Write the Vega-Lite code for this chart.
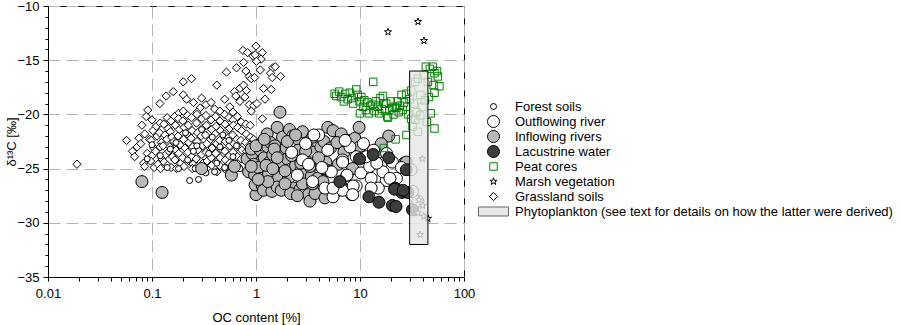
{
  "$schema": "https://vega.github.io/schema/vega-lite/v6.json",
  "width": 416,
  "height": 271,
  "autosize": {"type": "none"},
  "padding": {"left": 48, "top": 6, "right": 436, "bottom": 48},
  "background": "#ffffff",
  "config": {
    "view": {"stroke": "#000000", "strokeWidth": 1},
    "font": "Liberation Sans",
    "axis": {
      "labelFont": "Liberation Sans", "labelFontSize": 13, "labelColor": "#000000",
      "titleFont": "Liberation Sans", "titleFontSize": 13, "titleFontWeight": "normal", "titleColor": "#000000",
      "domainColor": "#000000", "tickColor": "#000000", "gridColor": "#b4b4b4", "gridDash": [12, 6], "gridWidth": 1
    },
    "legend": {
      "labelFont": "Liberation Sans", "labelFontSize": 13, "labelColor": "#000000"
    }
  },
  "encoding": {
    "x": {
      "field": "x", "type": "quantitative",
      "scale": {"type": "log", "domain": [0.01, 100], "nice": false},
      "axis": {
        "title": "OC content [%]",
        "values": [0.01,0.02,0.03,0.04,0.05,0.06,0.07,0.08,0.09,0.1,0.2,0.3,0.4,0.5,0.6,0.7,0.8,0.9,1,2,3,4,5,6,7,8,9,10,20,30,40,50,60,70,80,90,100],
        "format": "~g",
        "labelExpr": "abs(log(datum.value)/LN10 - round(log(datum.value)/LN10)) < 0.001 ? datum.label : ''",
        "grid": true,
        "gridOpacity": {"condition": {"test": "abs(log(datum.value)/LN10 - round(log(datum.value)/LN10)) < 0.001", "value": 1}, "value": 0},
        "tickSize": 4,
        "labelPadding": 6,
        "titlePadding": 11,
        "labelFlush": false,
        "labelOverlap": false
      }
    },
    "y": {
      "field": "y", "type": "quantitative",
      "scale": {"domain": [-35, -10], "nice": false, "zero": false},
      "axis": {
        "title": "δ¹³C [‰]",
        "values": [-35,-34,-33,-32,-31,-30,-29,-28,-27,-26,-25,-24,-23,-22,-21,-20,-19,-18,-17,-16,-15,-14,-13,-12,-11,-10],
        "labelExpr": "datum.value % 5 == 0 ? datum.label : ''",
        "grid": true,
        "gridOpacity": {"condition": {"test": "datum.value % 5 == 0", "value": 1}, "value": 0},
        "tickSize": {"condition": {"test": "datum.value % 5 == 0", "value": 5}, "value": 3},
        "labelPadding": 4,
        "titlePadding": -2,
        "labelFlush": false,
        "labelOverlap": false
      }
    }
  },
  "layer": [
    {
      "data": {"values": [
        {"s":"G","x":1.0,"y":-13.7},{"s":"G","x":0.93,"y":-14.6},{"s":"G","x":0.98,"y":-14.5},{"s":"G","x":0.75,"y":-14.1},{"s":"G","x":0.83,"y":-14.3},{"s":"G","x":1.15,"y":-14.3},{"s":"G","x":1.12,"y":-14.9},{"s":"G","x":1.01,"y":-15.1},{"s":"G","x":1.45,"y":-15.7},{"s":"G","x":1.53,"y":-15.6},{"s":"G","x":1.38,"y":-16.2},{"s":"G","x":1.43,"y":-16.6},{"s":"G","x":1.72,"y":-16.5},{"s":"G","x":0.52,"y":-16.1},{"s":"G","x":0.65,"y":-15.7},{"s":"G","x":0.76,"y":-15.2},{"s":"G","x":0.8,"y":-16.0},{"s":"G","x":0.86,"y":-16.5},{"s":"G","x":0.9,"y":-16.7},{"s":"G","x":0.97,"y":-16.6},{"s":"G","x":1.1,"y":-15.9},{"s":"G","x":1.18,"y":-17.6},{"s":"G","x":1.4,"y":-17.7},{"s":"G","x":1.22,"y":-18.6},{"s":"G","x":0.24,"y":-16.7},{"s":"G","x":0.2,"y":-17.0},{"s":"G","x":0.42,"y":-17.3},{"s":"G","x":0.16,"y":-17.9},{"s":"G","x":0.137,"y":-18.3},{"s":"G","x":0.119,"y":-19.0},{"s":"G","x":0.2,"y":-18.2},{"s":"G","x":0.215,"y":-18.6},{"s":"G","x":0.25,"y":-18.9},{"s":"G","x":0.3,"y":-18.5},{"s":"G","x":0.33,"y":-19.1},{"s":"G","x":0.37,"y":-18.9},{"s":"G","x":0.29,"y":-19.4},{"s":"G","x":0.4,"y":-19.5},{"s":"G","x":0.45,"y":-19.7},{"s":"G","x":0.62,"y":-17.9},{"s":"G","x":0.7,"y":-17.6},{"s":"G","x":0.76,"y":-17.3},{"s":"G","x":0.81,"y":-17.8},{"s":"G","x":0.64,"y":-18.3},{"s":"G","x":0.7,"y":-18.8},{"s":"G","x":0.78,"y":-18.4},{"s":"G","x":0.86,"y":-19.1},{"s":"G","x":0.95,"y":-19.2},{"s":"G","x":1.02,"y":-19.0},{"s":"G","x":0.56,"y":-19.3},{"s":"G","x":0.6,"y":-19.8},{"s":"G","x":0.9,"y":-19.7},{"s":"G","x":1.15,"y":-20.4},{"s":"G","x":0.5,"y":-18.6},{"s":"G","x":0.27,"y":-19.8},{"s":"G","x":0.18,"y":-19.9},{"s":"G","x":0.091,"y":-19.6},{"s":"G","x":0.088,"y":-20.2},{"s":"G","x":0.08,"y":-21.0},{"s":"G","x":0.085,"y":-21.8},{"s":"G","x":0.075,"y":-22.2},{"s":"G","x":0.057,"y":-22.4},{"s":"G","x":0.065,"y":-23.4},{"s":"G","x":0.068,"y":-23.9},{"s":"G","x":0.072,"y":-23.0},{"s":"G","x":0.078,"y":-22.7},{"s":"G","x":0.083,"y":-24.5},{"s":"G","x":0.085,"y":-24.8},{"s":"G","x":0.09,"y":-23.6},{"s":"G","x":0.095,"y":-22.3},{"s":"G","x":0.019,"y":-24.6},
        {"s":"G","x":0.1,"y":-20.5},{"s":"G","x":0.102,"y":-21.5},{"s":"G","x":0.098,"y":-22.4},{"s":"G","x":0.104,"y":-23.1},{"s":"G","x":0.1,"y":-23.8},{"s":"G","x":0.097,"y":-24.3},{"s":"G","x":0.105,"y":-24.9},
        {"s":"G","x":0.11,"y":-21.1},{"s":"G","x":0.112,"y":-22.0},{"s":"G","x":0.108,"y":-23.4},{"s":"G","x":0.114,"y":-24.6},
        {"s":"G","x":0.12,"y":-20.8},{"s":"G","x":0.118,"y":-21.7},{"s":"G","x":0.123,"y":-22.6},{"s":"G","x":0.12,"y":-23.0},{"s":"G","x":0.125,"y":-24.1},{"s":"G","x":0.121,"y":-25.0},
        {"s":"G","x":0.13,"y":-20.9},{"s":"G","x":0.133,"y":-21.9},{"s":"G","x":0.128,"y":-22.9},{"s":"G","x":0.135,"y":-23.7},{"s":"G","x":0.131,"y":-24.4},
        {"s":"G","x":0.14,"y":-20.3},{"s":"G","x":0.143,"y":-21.3},{"s":"G","x":0.139,"y":-22.3},{"s":"G","x":0.145,"y":-23.4},{"s":"G","x":0.141,"y":-24.7},
        {"s":"G","x":0.152,"y":-20.6},{"s":"G","x":0.15,"y":-21.6},{"s":"G","x":0.155,"y":-22.1},{"s":"G","x":0.148,"y":-23.0},{"s":"G","x":0.157,"y":-23.9},{"s":"G","x":0.153,"y":-24.9},
        {"s":"G","x":0.165,"y":-20.2},{"s":"G","x":0.168,"y":-21.0},{"s":"G","x":0.163,"y":-22.5},{"s":"G","x":0.17,"y":-23.3},{"s":"G","x":0.166,"y":-24.2},{"s":"G","x":0.172,"y":-25.0},
        {"s":"G","x":0.18,"y":-20.4},{"s":"G","x":0.183,"y":-21.4},{"s":"G","x":0.178,"y":-22.0},{"s":"G","x":0.186,"y":-22.8},{"s":"G","x":0.181,"y":-23.6},{"s":"G","x":0.189,"y":-24.5},
        {"s":"G","x":0.2,"y":-19.7},{"s":"G","x":0.198,"y":-20.6},{"s":"G","x":0.204,"y":-21.2},{"s":"G","x":0.201,"y":-22.3},{"s":"G","x":0.207,"y":-23.1},{"s":"G","x":0.197,"y":-24.0},{"s":"G","x":0.203,"y":-24.8},
        {"s":"G","x":0.22,"y":-20.1},{"s":"G","x":0.223,"y":-21.0},{"s":"G","x":0.218,"y":-21.8},{"s":"G","x":0.226,"y":-22.6},{"s":"G","x":0.221,"y":-23.5},{"s":"G","x":0.228,"y":-24.3},
        {"s":"G","x":0.24,"y":-20.3},{"s":"G","x":0.243,"y":-21.5},{"s":"G","x":0.238,"y":-22.2},{"s":"G","x":0.246,"y":-23.0},{"s":"G","x":0.241,"y":-23.9},{"s":"G","x":0.248,"y":-24.6},{"s":"G","x":0.244,"y":-25.0},
        {"s":"G","x":0.27,"y":-20.0},{"s":"G","x":0.268,"y":-20.8},{"s":"G","x":0.274,"y":-21.7},{"s":"G","x":0.271,"y":-22.5},{"s":"G","x":0.277,"y":-23.3},{"s":"G","x":0.266,"y":-24.1},{"s":"G","x":0.273,"y":-24.8},
        {"s":"G","x":0.3,"y":-20.4},{"s":"G","x":0.304,"y":-21.3},{"s":"G","x":0.297,"y":-22.0},{"s":"G","x":0.307,"y":-22.9},{"s":"G","x":0.301,"y":-23.7},{"s":"G","x":0.309,"y":-24.5},
        {"s":"G","x":0.33,"y":-20.1},{"s":"G","x":0.334,"y":-21.0},{"s":"G","x":0.327,"y":-21.9},{"s":"G","x":0.337,"y":-22.7},{"s":"G","x":0.331,"y":-23.5},{"s":"G","x":0.339,"y":-24.3},{"s":"G","x":0.335,"y":-25.0},
        {"s":"G","x":0.37,"y":-20.5},{"s":"G","x":0.374,"y":-21.4},{"s":"G","x":0.366,"y":-22.3},{"s":"G","x":0.378,"y":-23.1},{"s":"G","x":0.371,"y":-24.0},{"s":"G","x":0.376,"y":-24.7},
        {"s":"G","x":0.41,"y":-20.2},{"s":"G","x":0.414,"y":-21.1},{"s":"G","x":0.406,"y":-21.8},{"s":"G","x":0.418,"y":-22.7},{"s":"G","x":0.411,"y":-23.6},{"s":"G","x":0.417,"y":-24.4},{"s":"G","x":0.42,"y":-25.3},
        {"s":"G","x":0.45,"y":-20.6},{"s":"G","x":0.455,"y":-21.5},{"s":"G","x":0.447,"y":-22.4},{"s":"G","x":0.459,"y":-23.2},{"s":"G","x":0.452,"y":-24.0},{"s":"G","x":0.457,"y":-24.8},
        {"s":"G","x":0.5,"y":-20.0},{"s":"G","x":0.505,"y":-20.9},{"s":"G","x":0.496,"y":-21.8},{"s":"G","x":0.509,"y":-22.5},{"s":"G","x":0.502,"y":-23.4},{"s":"G","x":0.507,"y":-24.2},{"s":"G","x":0.499,"y":-25.0},
        {"s":"G","x":0.55,"y":-20.3},{"s":"G","x":0.556,"y":-21.3},{"s":"G","x":0.546,"y":-22.1},{"s":"G","x":0.559,"y":-22.9},{"s":"G","x":0.552,"y":-23.8},{"s":"G","x":0.557,"y":-24.5},
        {"s":"G","x":0.6,"y":-20.5},{"s":"G","x":0.606,"y":-21.0},{"s":"G","x":0.596,"y":-21.9},{"s":"G","x":0.61,"y":-22.7},{"s":"G","x":0.602,"y":-23.5},{"s":"G","x":0.608,"y":-24.6},
        {"s":"G","x":0.66,"y":-20.2},{"s":"G","x":0.667,"y":-21.2},{"s":"G","x":0.655,"y":-22.3},{"s":"G","x":0.671,"y":-23.0},{"s":"G","x":0.662,"y":-23.9},{"s":"G","x":0.669,"y":-24.8},
        {"s":"G","x":0.72,"y":-20.7},{"s":"G","x":0.727,"y":-21.5},{"s":"G","x":0.716,"y":-22.4},{"s":"G","x":0.731,"y":-23.3},{"s":"G","x":0.722,"y":-24.1},
        {"s":"G","x":0.8,"y":-20.9},{"s":"G","x":0.807,"y":-21.8},{"s":"G","x":0.795,"y":-22.6},{"s":"G","x":0.812,"y":-23.4},{"s":"G","x":0.803,"y":-24.3},
        {"s":"G","x":0.88,"y":-21.0},{"s":"G","x":0.886,"y":-22.1},{"s":"G","x":0.874,"y":-22.8},{"s":"G","x":0.892,"y":-23.7},
        {"s":"G","x":0.95,"y":-22.3},{"s":"G","x":0.957,"y":-23.0},{"s":"G","x":0.944,"y":-24.0},
        {"s":"F","x":0.23,"y":-26.1},{"s":"F","x":0.28,"y":-26.0},{"s":"F","x":0.26,"y":-25.0},{"s":"F","x":0.4,"y":-25.3},{"s":"F","x":0.14,"y":-24.9},{"s":"F","x":0.18,"y":-25.0},{"s":"F","x":0.32,"y":-24.9},{"s":"F","x":0.5,"y":-24.9},{"s":"F","x":0.62,"y":-24.7},{"s":"F","x":0.7,"y":-25.0},{"s":"F","x":0.22,"y":-24.2},{"s":"F","x":0.12,"y":-23.8},{"s":"F","x":0.35,"y":-23.6},{"s":"F","x":0.45,"y":-23.0},{"s":"F","x":0.27,"y":-22.9},{"s":"F","x":0.17,"y":-22.6},{"s":"F","x":0.55,"y":-22.4},{"s":"F","x":0.38,"y":-22.1},{"s":"F","x":0.21,"y":-21.7},{"s":"F","x":0.3,"y":-21.4},{"s":"F","x":0.6,"y":-23.9},{"s":"F","x":0.42,"y":-24.5},{"s":"F","x":0.25,"y":-23.4},{"s":"F","x":0.15,"y":-23.2},{"s":"F","x":0.1,"y":-22.8},{"s":"F","x":0.78,"y":-24.2},{"s":"F","x":0.48,"y":-21.9},{"s":"F","x":0.65,"y":-22.9},{"s":"F","x":0.09,"y":-24.1},{"s":"F","x":0.33,"y":-25.4},
        {"s":"I","x":0.08,"y":-26.2},{"s":"I","x":0.125,"y":-27.2},{"s":"I","x":0.3,"y":-25.0},{"s":"I","x":0.58,"y":-25.6},{"s":"I","x":0.62,"y":-24.8},{"s":"I","x":0.82,"y":-24.1},{"s":"I","x":0.85,"y":-25.3},
        {"s":"I","x":0.92,"y":-23.6},{"s":"I","x":0.95,"y":-24.6},{"s":"I","x":0.97,"y":-25.6},{"s":"I","x":0.9,"y":-23.2},{"s":"I","x":1.0,"y":-27.4},{"s":"I","x":0.98,"y":-26.5},
        {"s":"I","x":1.05,"y":-24.9},{"s":"I","x":1.1,"y":-23.3},{"s":"I","x":1.12,"y":-25.9},{"s":"I","x":1.15,"y":-26.6},{"s":"I","x":1.08,"y":-22.8},{"s":"I","x":1.2,"y":-24.0},{"s":"I","x":1.18,"y":-27.0},
        {"s":"I","x":1.28,"y":-21.8},{"s":"I","x":1.3,"y":-23.0},{"s":"I","x":1.35,"y":-24.4},{"s":"I","x":1.32,"y":-25.5},{"s":"I","x":1.4,"y":-26.3},{"s":"I","x":1.42,"y":-27.1},{"s":"I","x":1.38,"y":-22.6},{"s":"I","x":1.45,"y":-23.7},
        {"s":"I","x":1.6,"y":-21.2},{"s":"I","x":1.7,"y":-19.8},{"s":"I","x":1.8,"y":-22.1},{"s":"I","x":1.55,"y":-24.9},{"s":"I","x":1.65,"y":-25.8},{"s":"I","x":1.6,"y":-26.7},{"s":"I","x":1.75,"y":-27.0},{"s":"I","x":1.7,"y":-23.4},{"s":"I","x":1.78,"y":-24.4},{"s":"I","x":1.52,"y":-22.9},
        {"s":"I","x":2.1,"y":-21.4},{"s":"I","x":2.25,"y":-22.0},{"s":"I","x":1.95,"y":-23.1},{"s":"I","x":2.0,"y":-24.1},{"s":"I","x":2.2,"y":-25.0},{"s":"I","x":2.05,"y":-25.9},{"s":"I","x":2.3,"y":-26.8},{"s":"I","x":2.15,"y":-27.3},{"s":"I","x":2.35,"y":-23.6},{"s":"I","x":2.4,"y":-24.7},{"s":"I","x":1.9,"y":-26.4},
        {"s":"I","x":2.6,"y":-22.4},{"s":"I","x":2.8,"y":-21.6},{"s":"I","x":2.55,"y":-23.3},{"s":"I","x":2.9,"y":-24.0},{"s":"I","x":2.7,"y":-25.2},{"s":"I","x":3.0,"y":-26.0},{"s":"I","x":2.65,"y":-26.9},{"s":"I","x":3.2,"y":-27.4},{"s":"I","x":3.1,"y":-22.9},{"s":"I","x":2.95,"y":-25.5},{"s":"I","x":3.3,"y":-28.0},
        {"s":"I","x":3.5,"y":-22.1},{"s":"I","x":3.6,"y":-23.5},{"s":"I","x":3.8,"y":-24.6},{"s":"I","x":3.4,"y":-25.7},{"s":"I","x":4.0,"y":-26.5},{"s":"I","x":3.7,"y":-27.3},{"s":"I","x":4.2,"y":-23.0},{"s":"I","x":3.9,"y":-25.9},
        {"s":"I","x":4.9,"y":-21.2},{"s":"I","x":5.5,"y":-21.5},{"s":"I","x":4.5,"y":-22.5},{"s":"I","x":4.7,"y":-24.4},{"s":"I","x":5.0,"y":-25.2},{"s":"I","x":4.4,"y":-26.2},{"s":"I","x":5.3,"y":-27.0},{"s":"I","x":4.6,"y":-27.7},{"s":"I","x":5.2,"y":-23.1},
        {"s":"I","x":6.6,"y":-21.8},{"s":"I","x":6.0,"y":-22.6},{"s":"I","x":7.0,"y":-23.5},{"s":"I","x":6.2,"y":-24.6},{"s":"I","x":7.5,"y":-25.6},{"s":"I","x":6.5,"y":-26.5},{"s":"I","x":5.8,"y":-27.2},{"s":"I","x":7.8,"y":-22.4},
        {"s":"I","x":8.9,"y":-22.2},{"s":"I","x":9.8,"y":-21.2},{"s":"I","x":9.9,"y":-23.0},{"s":"I","x":10.5,"y":-24.0},{"s":"I","x":8.5,"y":-25.0},
        {"s":"I","x":18.9,"y":-22.0},{"s":"I","x":16.0,"y":-22.7},{"s":"I","x":26.6,"y":-24.5},{"s":"I","x":27.9,"y":-24.4},
        {"s":"I","x":1.0,"y":-22.9},{"s":"I","x":1.2,"y":-22.3},{"s":"I","x":1.5,"y":-23.2},{"s":"I","x":2.0,"y":-22.5},{"s":"I","x":2.4,"y":-21.9},{"s":"I","x":1.3,"y":-26.2},{"s":"I","x":1.9,"y":-25.2},{"s":"I","x":1.25,"y":-24.7},{"s":"I","x":1.6,"y":-24.0},{"s":"I","x":2.2,"y":-23.8},{"s":"I","x":2.7,"y":-24.5},{"s":"I","x":3.0,"y":-23.4},{"s":"I","x":3.3,"y":-24.8},{"s":"I","x":0.9,"y":-24.8},{"s":"I","x":1.05,"y":-26.0},{"s":"I","x":1.45,"y":-25.0},{"s":"I","x":2.5,"y":-27.5},{"s":"I","x":2.8,"y":-26.4},{"s":"I","x":4.0,"y":-24.0},{"s":"I","x":4.5,"y":-25.0},{"s":"I","x":3.5,"y":-26.4},
        {"s":"O","x":4.0,"y":-21.9},{"s":"O","x":4.9,"y":-23.3},{"s":"O","x":2.8,"y":-24.2},{"s":"O","x":6.8,"y":-24.2},{"s":"O","x":10.2,"y":-25.4},{"s":"O","x":12.8,"y":-25.9},{"s":"O","x":16.0,"y":-24.5},{"s":"O","x":22.4,"y":-25.9},{"s":"O","x":17.9,"y":-26.1},{"s":"O","x":9.2,"y":-26.6},{"s":"O","x":12.4,"y":-24.8},{"s":"O","x":16.6,"y":-25.3},{"s":"O","x":5.5,"y":-27.6},{"s":"O","x":8.3,"y":-27.4},{"s":"O","x":6.8,"y":-27.0},{"s":"O","x":3.5,"y":-26.2},{"s":"O","x":5.3,"y":-25.3},{"s":"O","x":15.0,"y":-26.8},{"s":"O","x":9.2,"y":-23.9},{"s":"O","x":11.5,"y":-23.9},{"s":"O","x":6.8,"y":-24.4},{"s":"O","x":14.5,"y":-24.5},{"s":"O","x":19.4,"y":-25.9},{"s":"O","x":31,"y":-25.1},{"s":"O","x":36,"y":-28.0},{"s":"O","x":32,"y":-27.1},{"s":"O","x":2.2,"y":-23.5},{"s":"O","x":3.0,"y":-22.7},{"s":"O","x":3.6,"y":-21.9},{"s":"O","x":2.5,"y":-25.6},{"s":"O","x":3.2,"y":-24.6},{"s":"O","x":4.3,"y":-24.9},{"s":"O","x":4.6,"y":-26.8},{"s":"O","x":7.5,"y":-25.6},{"s":"O","x":8.0,"y":-23.0},{"s":"O","x":7.2,"y":-22.4},{"s":"O","x":10.8,"y":-22.7},{"s":"O","x":13.5,"y":-23.3},{"s":"O","x":18.0,"y":-23.6},{"s":"O","x":20.5,"y":-24.4},{"s":"O","x":25,"y":-24.9},{"s":"O","x":12.8,"y":-26.8},{"s":"O","x":8.6,"y":-26.6},{"s":"O","x":8.5,"y":-27.4},{"s":"O","x":5.5,"y":-26.8},
        {"s":"L","x":9.9,"y":-24.1},{"s":"L","x":13.4,"y":-23.7},{"s":"L","x":18.9,"y":-24.0},{"s":"L","x":27.9,"y":-25.1},{"s":"L","x":6.4,"y":-26.2},{"s":"L","x":21.8,"y":-26.8},{"s":"L","x":25.2,"y":-27.2},{"s":"L","x":28.8,"y":-27.2},{"s":"L","x":12.2,"y":-27.6},{"s":"L","x":15.2,"y":-28.1},{"s":"L","x":20.5,"y":-28.4},{"s":"L","x":22.2,"y":-28.5},{"s":"L","x":32,"y":-28.8},{"s":"L","x":21.5,"y":-26.9},{"s":"L","x":26,"y":-27.0},
        {"s":"P","x":5.7,"y":-18.1},{"s":"P","x":5.9,"y":-18.3},{"s":"P","x":6.3,"y":-17.9},{"s":"P","x":6.6,"y":-18.4},{"s":"P","x":7.2,"y":-18.1},{"s":"P","x":7.0,"y":-18.8},{"s":"P","x":7.6,"y":-18.6},{"s":"P","x":8.0,"y":-18.0},{"s":"P","x":8.3,"y":-18.5},{"s":"P","x":8.6,"y":-19.0},{"s":"P","x":9.2,"y":-17.7},{"s":"P","x":9.5,"y":-18.2},{"s":"P","x":9.9,"y":-18.8},{"s":"P","x":10.3,"y":-18.4},{"s":"P","x":10.7,"y":-19.3},{"s":"P","x":11.0,"y":-18.7},{"s":"P","x":11.4,"y":-19.6},{"s":"P","x":11.8,"y":-18.9},{"s":"P","x":12.2,"y":-19.9},{"s":"P","x":12.6,"y":-19.2},{"s":"P","x":13.2,"y":-19.1},{"s":"P","x":13.4,"y":-17.0},{"s":"P","x":13.8,"y":-19.7},{"s":"P","x":14.2,"y":-18.8},{"s":"P","x":14.8,"y":-19.3},{"s":"P","x":15.3,"y":-19.9},{"s":"P","x":15.6,"y":-18.5},{"s":"P","x":16.2,"y":-19.5},{"s":"P","x":16.6,"y":-18.3},{"s":"P","x":17.0,"y":-19.0},{"s":"P","x":17.4,"y":-19.7},{"s":"P","x":17.9,"y":-19.0},{"s":"P","x":18.3,"y":-20.2},{"s":"P","x":18.6,"y":-20.3},{"s":"P","x":19.2,"y":-19.6},{"s":"P","x":19.8,"y":-18.8},{"s":"P","x":20.4,"y":-19.4},{"s":"P","x":21.0,"y":-20.0},{"s":"P","x":21.6,"y":-19.3},{"s":"P","x":22.4,"y":-19.4},{"s":"P","x":23.0,"y":-18.8},{"s":"P","x":23.6,"y":-19.8},{"s":"P","x":24.2,"y":-19.2},{"s":"P","x":25.1,"y":-18.2},{"s":"P","x":25.8,"y":-19.6},{"s":"P","x":26.5,"y":-18.9},{"s":"P","x":27.9,"y":-18.1},{"s":"P","x":28.5,"y":-19.3},{"s":"P","x":29.2,"y":-20.0},{"s":"P","x":30.0,"y":-18.6},{"s":"P","x":10.0,"y":-19.9},{"s":"P","x":17.0,"y":-23.1},{"s":"P","x":22.0,"y":-22.3},{"s":"P","x":28,"y":-21.9},{"s":"P","x":32,"y":-21.1},{"s":"P","x":34,"y":-20.5},{"s":"P","x":36,"y":-21.6},{"s":"P","x":38,"y":-20.1},{"s":"P","x":42,"y":-18.7},{"s":"P","x":48,"y":-19.9},{"s":"P","x":52,"y":-21.3},{"s":"P","x":52,"y":-18.0},{"s":"P","x":51,"y":-17.3},{"s":"P","x":58,"y":-17.4},{"s":"P","x":34,"y":-17.0},{"s":"P","x":41,"y":-16.4},{"s":"P","x":43,"y":-15.6},{"s":"P","x":50,"y":-15.6},{"s":"P","x":52,"y":-16.2},{"s":"P","x":47,"y":-15.8},{"s":"P","x":55,"y":-16.0},{"s":"P","x":45,"y":-17.0},{"s":"P","x":38,"y":-18.2},{"s":"P","x":33,"y":-19.0},{"s":"P","x":31,"y":-17.8},{"s":"P","x":36,"y":-16.7},{"s":"P","x":40,"y":-19.3},{"s":"P","x":44,"y":-20.7},{"s":"P","x":46,"y":-18.4},{"s":"P","x":56,"y":-16.5},{"s":"P","x":35,"y":-19.8},{"s":"P","x":31,"y":-20.4},
        {"s":"M","x":18.6,"y":-12.4},{"s":"M","x":36.1,"y":-11.45},{"s":"M","x":41.2,"y":-13.2},{"s":"M","x":39.8,"y":-24.1},{"s":"M","x":36.9,"y":-27.9},{"s":"M","x":36,"y":-29.1},{"s":"M","x":41,"y":-29.4},{"s":"M","x":45,"y":-29.6},{"s":"M","x":37.9,"y":-31.1},{"s":"M","x":40,"y":-28.4}
      ]},
      "mark": {"type": "point", "opacity": 1, "strokeWidth": 1, "filled": true},
      "encoding": {
        "shape": {
          "field": "s", "type": "nominal",
          "scale": {"domain": ["F","O","I","L","P","M","G","Y"], "range": ["circle","circle","circle","circle","square","M0,-1L0.235,-0.324L0.951,-0.309L0.38,0.124L0.588,0.809L0,0.4L-0.588,0.809L-0.38,0.124L-0.951,-0.309L-0.235,-0.324Z","diamond","M-1,-0.3H1V0.3H-1Z"]},
          "legend": {
            "title": null, "orient": "none", "legendX": 430, "legendY": 93, "padding": 0,
            "labelOffset": 6, "rowPadding": 0, "clipHeight": 15, "symbolStrokeWidth": 1, "labelLimit": 0,
            "labelExpr": "datum.label == 'F' ? 'Forest soils' : datum.label == 'O' ? 'Outflowing river' : datum.label == 'I' ? 'Inflowing rivers' : datum.label == 'L' ? 'Lacustrine water' : datum.label == 'P' ? 'Peat cores' : datum.label == 'M' ? 'Marsh vegetation' : datum.label == 'G' ? 'Grassland soils' : 'Phytoplankton (see text for details on how the latter were derived)'"
          }
        },
        "size": {
          "field": "s", "type": "nominal",
          "scale": {"type": "ordinal", "domain": ["F","O","I","L","P","M","G","Y"], "range": [36,144,144,144,56,55,68,900]}
        },
        "fill": {
          "field": "s", "type": "nominal",
          "scale": {"domain": ["F","O","I","L","P","M","G","Y"], "range": ["#ffffff","#ffffff","#b8b8b8","#3c3c3c","transparent","#ffffff","#ffffff","#e8e8e8"]}
        },
        "stroke": {
          "field": "s", "type": "nominal",
          "scale": {"domain": ["F","O","I","L","P","M","G","Y"], "range": ["#000000","#000000","#000000","#000000","#008000","#000000","#000000","#666666"]}
        }
      }
    },
    {
      "data": {"values": [{"x": 30, "x2": 45, "y": -32, "y2": -16}]},
      "mark": {"type": "rect", "fill": "#e6e6e6", "fillOpacity": 0.8, "stroke": "#000000", "strokeWidth": 1},
      "encoding": {
        "x2": {"field": "x2"},
        "y2": {"field": "y2"}
      }
    }
  ]
}
